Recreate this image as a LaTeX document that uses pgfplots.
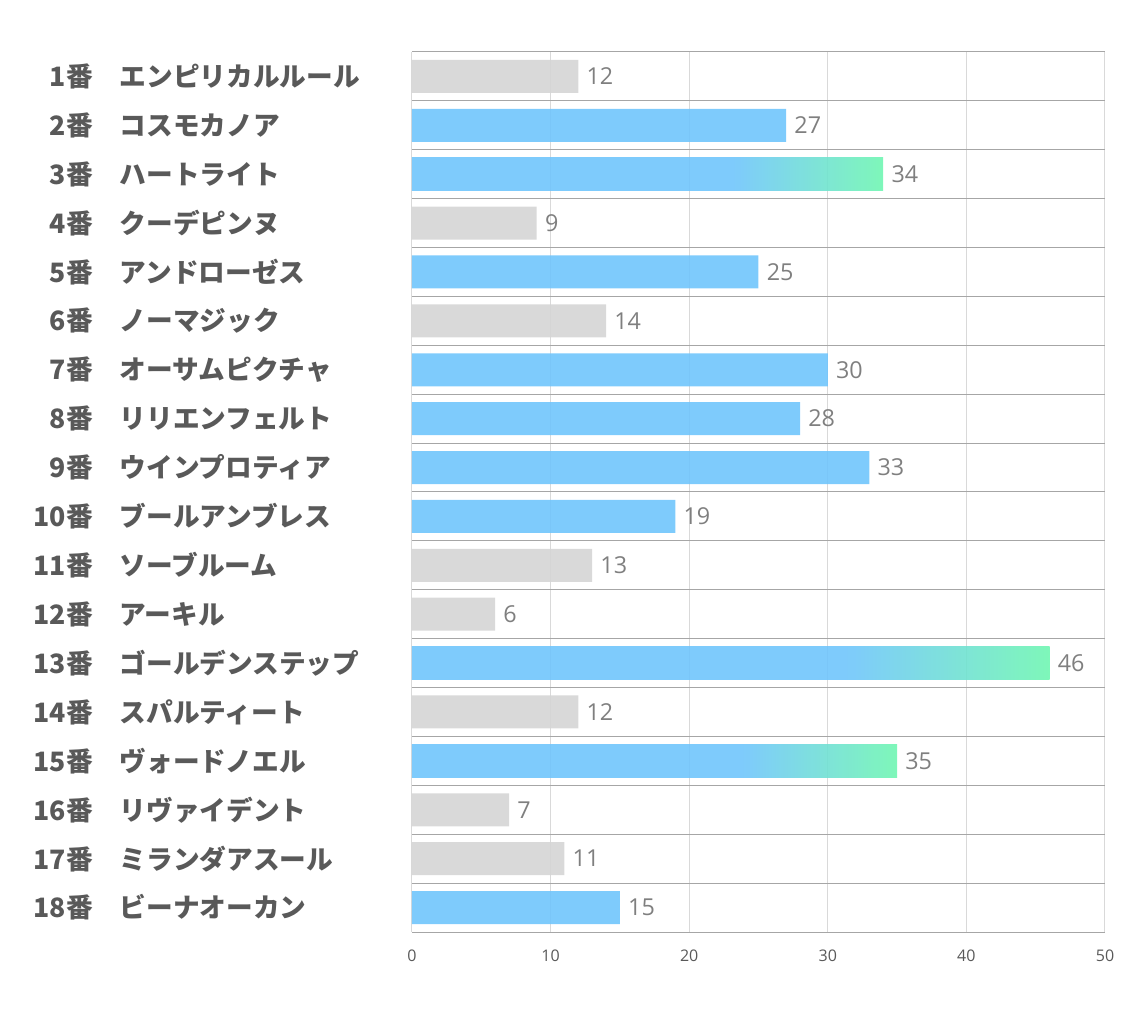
\documentclass[border=0pt]{standalone}
\usepackage{fontspec}
\setmainfont{Open Sans}
\newfontfamily\jp{Noto Sans CJK JP}
\usepackage{pgfplots}
\pgfplotsset{compat=1.18}

\definecolor{bargray}{HTML}{D5D5D5}
\definecolor{barblue}{HTML}{70C5FC}
\definecolor{bargreen}{HTML}{70F6B2}
\definecolor{labgray}{HTML}{595959}
\definecolor{valgray}{HTML}{7F7F7F}
\definecolor{sepgray}{HTML}{A6A6A6}
\definecolor{gridgray}{HTML}{D9D9D9}

% blue for most of the bar, fading to green at the end
\pgfdeclarehorizontalshading{bluegreen}{100bp}{color(0bp)=(barblue); color(59bp)=(barblue); color(75bp)=(bargreen); color(100bp)=(bargreen)}

\newcommand{\lab}[2]{\makebox[47.25pt][r]{#1番}\makebox[239.25pt][l]{\hspace{20.25pt}#2}}

\begin{document}
\begin{tikzpicture}
\begin{axis}[
  name=ax,
  scale only axis,
  width=519.75pt, height=660pt,
  xmin=0, xmax=50, ymin=0.5, ymax=18.5,
  xtick={10,20,30,40,50},
  extra x ticks={0},
  extra x tick style={grid style={sepgray, line width=0.75pt}},
  xmajorgrids=true,
  major grid style={gridgray, line width=0.75pt},
  ytick={1,...,18},
  minor ytick={0.5,1.5,...,18.5},
  yminorgrids=true,
  minor grid style={sepgray, line width=0.75pt},
  axis line style={draw=none},
  tick style={draw=none},
  /pgf/number format/assume math mode=true,
  xticklabel style={font=\fontsize{12}{12}\selectfont, text=labgray, inner sep=0pt, yshift=-13.5pt},
  yticklabel style={font=\jp\bfseries\fontsize{20}{20}\selectfont, text=labgray, inner sep=0pt, anchor=east},
  yticklabels={
    \lab{18}{ビーナオーカン},
    \lab{17}{ミランダアスール},
    \lab{16}{リヴァイデント},
    \lab{15}{ヴォードノエル},
    \lab{14}{スパルティート},
    \lab{13}{ゴールデンステップ},
    \lab{12}{アーキル},
    \lab{11}{ソーブルーム},
    \lab{10}{ブールアンブレス},
    \lab{9}{ウインプロティア},
    \lab{8}{リリエンフェルト},
    \lab{7}{オーサムピクチャ},
    \lab{6}{ノーマジック},
    \lab{5}{アンドローゼス},
    \lab{4}{クーデピンヌ},
    \lab{3}{ハートライト},
    \lab{2}{コスモカノア},
    \lab{1}{エンピリカルルール}},
  mybar/.style={xbar, bar width=0.675, bar shift=0pt, draw=none, fill opacity=0.9,
    point meta=x, nodes near coords, nodes near coords align={horizontal},
    every node near coord/.append style={anchor=west, inner sep=0pt, xshift=6pt,
      font=\fontsize{17.5}{17.5}\selectfont, text=valgray, text opacity=1}},
]
% gray bars
\addplot[mybar, fill=bargray] coordinates {
  (12,18) (9,15) (14,13) (13,8) (6,7) (12,5) (7,3) (11,2)};
% blue bars
\addplot[mybar, fill=barblue] coordinates {
  (27,17) (25,14) (30,12) (28,11) (33,10) (19,9) (15,1)};
% top three, each shaded on its own
\addplot[mybar, shading=bluegreen] coordinates {(34,16)};
\addplot[mybar, shading=bluegreen] coordinates {(46,6)};
\addplot[mybar, shading=bluegreen] coordinates {(35,4)};
\end{axis}
\path ([xshift=-309pt, yshift=-66pt]ax.south west) rectangle ([xshift=21.75pt, yshift=39pt]ax.north east);
\end{tikzpicture}
\end{document}
